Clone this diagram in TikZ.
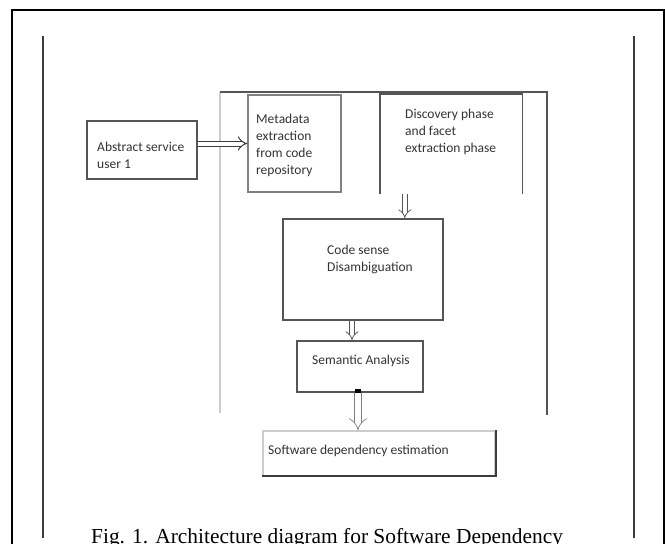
\documentclass[tikz,border=0pt]{standalone}
\usepackage{fontspec}
\setmainfont{Carlito}
\newfontfamily\capfont{Liberation Serif}
\usepackage{tikz}
\usetikzlibrary{arrows.meta,positioning,calc}
\definecolor{boxGray}{RGB}{85,85,85}
\definecolor{lineGray}{RGB}{60,60,60}
\definecolor{paleGray}{RGB}{205,205,205}

\begin{document}
\begin{tikzpicture}[x=1pt,y=-1pt,
    box/.style={draw=boxGray,line width=1.4pt,inner sep=0pt},
    txt/.style={font=\fontsize{13.5}{17}\selectfont,black!80,align=left,
                anchor=north west,inner sep=0pt},
    flow/.style={draw=boxGray,line width=0.7pt,double=white,
                 double distance=4pt,-{Implies}}]
        \useasboundingbox (0,0) rectangle (665,544);
        \clip (0,0) rectangle (665,544);
        % Rahmen
        \draw[black,line width=2pt] (12,560)--(12,10)--(664,10)--(664,560);
        \draw[lineGray,line width=1.8pt] (43,36)--(43,538);
        \draw[lineGray,line width=1.8pt] (634,36)--(634,538);
        % Container
        \draw[paleGray,line width=1.6pt] (220,413)--(220,92);
        \draw[boxGray,line width=1.4pt] (220,92)--(547,92)--(547,415);
        % Boxen
        \node[box,minimum width=110,minimum height=58] (abs) at (142,150) {};
        \node[box,draw=gray,minimum width=93,minimum height=97] (meta) at (294.5,143.5) {};
        \node[inner sep=0pt,minimum width=142,minimum height=100] (disc) at (451,144) {};
        \draw[boxGray,line width=1.4pt]
          (disc.south west)--(disc.north west)--(disc.north east)--(disc.south east);
        \node[box,line width=1.8pt,minimum width=160,minimum height=101] (code) at (363,269.5) {};
        \node[box,line width=1.8pt,minimum width=126,minimum height=51] (sem) at (360,366.5) {};
        \node[box,draw=paleGray,minimum width=232,minimum height=45] (soft) at (379,453.5) {};
        \draw[lineGray,line width=2pt]
          ([yshift=1pt]soft.south west)--([yshift=1pt]soft.south east)--(soft.north east);
        % Texte
        \node[txt] at (97,142) {Abstract service\\user 1};
        \node[txt] at (256,114) {Metadata\\extraction\\from code\\repository};
        \node[txt] at (405,109) {Discovery phase\\and facet\\extraction phase};
        \node[txt] at (327,245) {Code sense\\Disambiguation};
        \node[txt] at (312,355) {Semantic Analysis};
        \node[txt] at (268,445) {Software dependency estimation};
        % Pfeile
        \draw[flow,draw=lineGray,line width=1pt] (abs.east |- meta.west) -- (meta.west);
        \draw[flow] ([xshift=25]disc.south west) -- ([xshift=25]disc.south west |- code.north);
        \draw[flow] ([xshift=-11]code.south) -- ([xshift=-11]code.south |- sem.north);
        \fill[black] ([xshift=-5]sem.south) rectangle ([xshift=1,yshift=4]sem.south);
        \draw[flow,draw=gray,double distance=6pt] ([xshift=-2]sem.south) -- ([xshift=-2]sem.south |- soft.north);
        % Bildunterschrift
        \node[font=\capfont\fontsize{21.4}{24}\selectfont,anchor=base west,inner sep=0pt]
          (cap) at (91,543) {Fig. 1. Architecture diagram for Software Dependency};
      \end{tikzpicture}
\end{document}
